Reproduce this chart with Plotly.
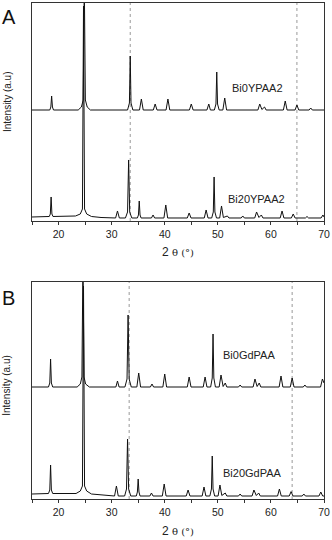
import plotly.graph_objects as go

# 2-theta range and reference lines (dotted)
two_theta_range = [15, 70]
tick_vals = [15, 20, 25, 30, 35, 40, 45, 50, 55, 60, 65, 70]
tick_text = ["", "20", "", "30", "", "40", "", "50", "", "60", "", "70"]
a_ref_lines = [33.5, 64.9]
b_ref_lines = [33.3, 64.0]

# Panel A, Bi0YPAA2 (offset trace)
a_top_x = [15, 18.35, 18.55, 18.7, 18.85, 19.05,
           23.7, 24.3, 24.65, 24.85, 25.05, 25.4, 26.0,
           33.0, 33.35, 33.5, 33.65, 34.0,
           35.25, 35.6, 35.95,
           37.85, 38.2, 38.55,
           40.25, 40.6, 40.95,
           44.65, 45.0, 45.35,
           47.95, 48.3, 48.6,
           49.35, 49.65, 49.8, 49.95, 50.25,
           50.95, 51.3, 51.65,
           57.55, 57.9, 58.3, 58.8, 59.1,
           62.35, 62.7, 63.05,
           64.55, 64.9, 65.25,
           67.2, 67.5, 67.8,
           70]
a_top_y = [111, 111, 114, 125, 114, 111,
           111, 114, 121, 240, 121, 114, 111,
           111, 118, 165, 118, 111,
           111, 122, 111,
           111, 117, 111,
           111, 122, 111,
           111, 117, 111,
           111, 117, 111,
           111, 117, 149, 117, 111,
           111, 123, 111,
           111, 117, 111.5, 114, 111,
           111, 120, 111,
           111, 116, 111,
           111, 113, 111,
           111]

# Panel A, Bi20YPAA2
a_bot_x = [15, 18.25, 18.45, 18.6, 18.75, 18.95,
           23.2, 24.1, 24.5, 24.7, 24.9, 25.3, 26.2, 28,
           30.75, 31.1, 31.45,
           32.6, 33.0, 33.2, 33.4, 33.8,
           34.85, 35.05, 35.2, 35.35, 35.55,
           37.5, 37.8, 38.1,
           39.85, 40.2, 40.55,
           44.25, 44.6, 44.95,
           47.45, 47.8, 48.15,
           48.85, 49.15, 49.3, 49.45, 49.75,
           50.35, 50.7, 51.05, 51.8, 52.1,
           54.4, 54.7, 55.0,
           56.95, 57.3, 57.75, 58.2, 58.5,
           61.75, 62.1, 62.45,
           63.85, 64.2, 64.55,
           66.5, 66.8, 67.1,
           69.45, 69.8, 70]
a_bot_y = [4, 4.5, 7, 24, 7, 4.5,
           5, 7, 12, 215, 12, 7, 4.5, 3.5,
           3, 10, 3,
           3, 9, 61, 9, 3,
           3, 6, 20, 6, 3,
           3, 6, 3,
           3, 16, 3,
           3, 8, 3,
           3, 11, 3,
           3, 9, 44, 9, 3,
           3, 15, 3.5, 5, 3,
           3, 5, 3,
           3, 9, 3.5, 6, 3,
           3, 10, 3,
           3, 7, 3,
           3, 4.5, 3,
           3, 6, 4]

# Panel B, Bi0GdPAA (offset trace)
b_top_x = [15, 18.1, 18.35, 18.5, 18.65, 18.9,
           23.5, 24.1, 24.4, 24.6, 24.8, 25.1, 25.8,
           30.8, 31.1, 31.4,
           32.5, 32.9, 33.1, 33.3, 33.7,
           34.75, 35.1, 35.45,
           37.3, 37.6, 37.9,
           39.65, 40.0, 40.35,
           44.25, 44.6, 44.95,
           47.25, 47.6, 47.95,
           48.65, 48.95, 49.1, 49.25, 49.55,
           50.25, 50.6, 51.0, 51.4, 51.7,
           53.9, 54.2, 54.5,
           56.65, 57.0, 57.4, 57.8, 58.1,
           61.55, 61.9, 62.25,
           63.65, 64.0, 64.35,
           66.1, 66.4, 66.7,
           69.35, 69.7, 70]
b_top_y = [112, 112, 116, 140, 116, 112,
           112, 115, 122, 240, 122, 115, 112,
           112, 118, 112,
           112, 120, 184, 120, 112,
           112, 126, 112,
           112, 115, 112,
           112, 125, 112,
           112, 122, 112,
           112, 122, 112,
           112, 121, 165, 121, 112,
           112, 124, 112.5, 116, 112,
           112, 114, 112,
           112, 120, 112.5, 116, 112,
           112, 123, 112,
           112, 121, 112,
           112, 114, 112,
           112, 120, 116]

# Panel B, Bi20GdPAA
b_bot_x = [15, 18.1, 18.35, 18.5, 18.65, 18.9,
           23.3, 24.1, 24.5, 24.7, 24.9, 25.3, 26.2, 28,
           30.55, 30.9, 31.25,
           32.45, 32.8, 33.0, 33.2, 33.6,
           34.65, 34.85, 35.0, 35.15, 35.35,
           37.2, 37.5, 37.8,
           39.55, 39.9, 40.25,
           44.05, 44.4, 44.75,
           47.05, 47.4, 47.75,
           48.5, 48.8, 48.95, 49.1, 49.4,
           50.05, 50.4, 50.75, 51.4, 51.7,
           53.9, 54.2, 54.5,
           56.45, 56.8, 57.25, 57.7, 58.0,
           61.25, 61.6, 61.95,
           63.45, 63.8, 64.15,
           65.9, 66.2, 66.5,
           69.05, 69.4, 69.75, 70]
b_bot_y = [5, 5.5, 9, 34, 9, 5.5,
           5.5, 8, 13, 213, 13, 8, 5, 4,
           3, 13, 3,
           3, 10, 60, 10, 3,
           3, 7, 20, 7, 3,
           3, 6, 3,
           3, 15, 3,
           3, 9, 3,
           3, 12, 3,
           3, 10, 43, 10, 3,
           3, 14, 3.5, 6, 3,
           3, 5, 3,
           3, 9, 3.5, 6, 3,
           3, 10, 3,
           3, 7.4, 3,
           3, 5, 3,
           3, 7, 3, 3]

sample_names = ["Bi0YPAA2", "Bi20YPAA2", "Bi0GdPAA", "Bi20GdPAA"]
label_pos = [(52.3, 133), (51.5, 22), (50.6, 144), (50.6, 26)]

FONT = "Liberation Sans, Arial, sans-serif"
TXT = "#222"

fig = go.Figure()

traces = [(a_top_x, a_top_y, "x", "y"), (a_bot_x, a_bot_y, "x", "y"),
          (b_top_x, b_top_y, "x2", "y2"), (b_bot_x, b_bot_y, "x2", "y2")]
for (xs, ys, xa, ya), name in zip(traces, sample_names):
    fig.add_trace(go.Scatter(x=xs, y=ys, xaxis=xa, yaxis=ya, mode="lines", name=name,
                             line=dict(color="#111", width=1), showlegend=False,
                             hoverinfo="skip"))

# dotted reference lines
for xa, ya, refs in [("x", "y", a_ref_lines), ("x2", "y2", b_ref_lines)]:
    for v in refs:
        fig.add_shape(type="line", xref=xa, yref=ya + " domain", x0=v, x1=v, y0=0, y1=1,
                      line=dict(color="#999", width=1, dash="dot"), layer="below")

# sample labels
for (xa, ya), name, (lx, ly) in zip([("x", "y"), ("x", "y"), ("x2", "y2"), ("x2", "y2")],
                                    sample_names, label_pos):
    fig.add_annotation(x=lx, y=ly, xref=xa, yref=ya, text=name, showarrow=False,
                       xanchor="left", yanchor="middle", font=dict(size=11, color=TXT))

bottom_axis = dict(range=two_theta_range, tickvals=tick_vals, ticktext=tick_text,
                   ticks="outside", ticklen=3, tickcolor="#333", showline=True,
                   linecolor="#333", linewidth=1, mirror=True, showgrid=False,
                   zeroline=False, tickfont=dict(size=10.5, color=TXT))
top_axis = dict(range=two_theta_range, tickvals=tick_vals, ticks="inside", ticklen=3,
                tickcolor="#333", side="top", showticklabels=False, showgrid=False,
                zeroline=False, showline=False)
left_axis = dict(showticklabels=False, ticks="", showline=True, linecolor="#333",
                 linewidth=1, mirror=True, showgrid=False, zeroline=False)

fig.update_layout(
    width=332, height=540,
    margin=dict(l=32, r=8, t=3, b=41),
    paper_bgcolor="white", plot_bgcolor="white",
    font=dict(family=FONT, color=TXT),
    xaxis=dict(bottom_axis, anchor="y", domain=[0, 1]),
    yaxis=dict(left_axis, anchor="x", domain=[0.5605, 1], range=[0, 218]),
    xaxis2=dict(bottom_axis, anchor="y2", domain=[0, 1]),
    yaxis2=dict(left_axis, anchor="x2", domain=[0, 0.4375], range=[0, 217]),
    xaxis3=dict(top_axis, overlaying="x", anchor="y"),
    xaxis4=dict(top_axis, overlaying="x2", anchor="y2"),
)

# panel letters, axis titles
for letter, py in [("A", 0.971), ("B", 0.406)]:
    fig.add_annotation(x=-0.079, y=py, xref="paper", yref="paper", text=letter,
                       showarrow=False, xanchor="center", yanchor="middle",
                       font=dict(size=20, color="#111"))
for py in [0.802, 0.23]:
    fig.add_annotation(x=-0.086, y=py, xref="paper", yref="paper", text="Intensity (a.u)",
                       textangle=-90, showarrow=False, xanchor="center", yanchor="middle",
                       font=dict(size=10, color=TXT))
for py in [0.498, -0.0645]:
    fig.add_annotation(x=0.5, y=py, xref="paper", yref="paper",
                       text="2 <span style='font-family:DejaVu Serif; font-size:10px'>θ (°)</span>",
                       showarrow=False, xanchor="center", yanchor="middle",
                       font=dict(size=12, color=TXT))

# page body has a default 8px margin; drop it so the figure sits at the window corner
fig.write_html("out.html", config={"displayModeBar": False, "displaylogo": False},
               post_script="document.body.style.margin='0px';")
